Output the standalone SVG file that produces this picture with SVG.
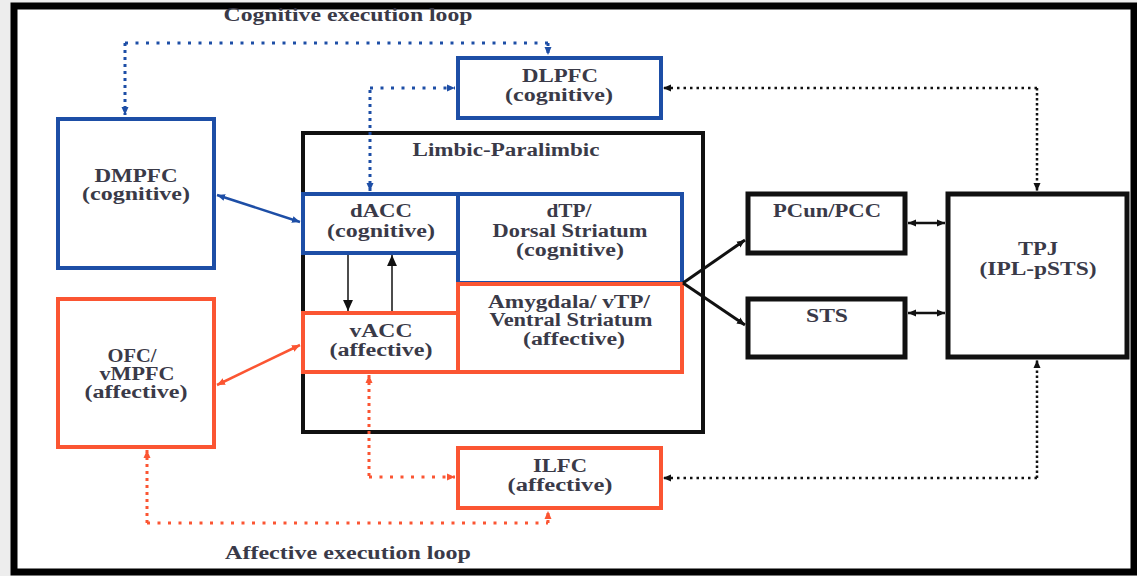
<svg xmlns="http://www.w3.org/2000/svg" width="1137" height="576" viewBox="0 0 1137 576">
  <defs>
    <style>
      .lbl { font-family: "Liberation Serif", "DejaVu Serif", serif; font-weight: bold; font-size: 18px; fill: #3a3a48; text-anchor: middle; }
      .box { fill: none; stroke-width: 4; }
      .cog { stroke: #1d4ea6; }
      .aff { stroke: #fb5532; }
      .blk { stroke: #111; }
      .thick { stroke-width: 5; }
      .con { fill: none; }
      .dotH { stroke-width: 3; stroke-dasharray: 3 7.5; }
      .dotV { stroke-width: 3; stroke-dasharray: 3 4; }
      .kdotH { stroke-width: 2.5; stroke-dasharray: 2.5 4; }
      .kdotV { stroke-width: 2.5; stroke-dasharray: 2.5 2.5; }
    </style>
    <marker id="hBlue" viewBox="0 0 8 8" refX="8" refY="4" markerWidth="8" markerHeight="8" markerUnits="userSpaceOnUse" orient="auto-start-reverse">
      <path d="M0,0.5 L8,4 L0,7.5 z" fill="#1d4ea6"/>
    </marker>
    <marker id="hOrange" viewBox="0 0 8 8" refX="8" refY="4" markerWidth="8" markerHeight="8" markerUnits="userSpaceOnUse" orient="auto-start-reverse">
      <path d="M0,0.5 L8,4 L0,7.5 z" fill="#fb5532"/>
    </marker>
    <marker id="hBlack" viewBox="0 0 8 8" refX="8" refY="4" markerWidth="8" markerHeight="8" markerUnits="userSpaceOnUse" orient="auto-start-reverse">
      <path d="M0,0.5 L8,4 L0,7.5 z" fill="#111"/>
    </marker>
    <marker id="hBlackBig" viewBox="0 0 10 10" refX="10" refY="5" markerWidth="11" markerHeight="11" markerUnits="userSpaceOnUse" orient="auto-start-reverse">
      <path d="M0,0.5 L10,5 L0,9.5 z" fill="#111"/>
    </marker>
  </defs>

  <!-- page and outer frame -->
  <rect x="0" y="0" width="1137" height="576" fill="#ededed"/>
  <rect x="14" y="6" width="1120" height="566" fill="#fff" stroke="#000" stroke-width="7"/>

  <!-- loop captions -->
  <text class="lbl" x="348" y="21" textLength="249" lengthAdjust="spacingAndGlyphs">Cognitive execution loop</text>
  <text class="lbl" x="348" y="559" textLength="246" lengthAdjust="spacingAndGlyphs">Affective execution loop</text>

  <!-- limbic-paralimbic container -->
  <g id="limbic">
    <rect class="box blk" x="303" y="133" width="400" height="299"/>
    <text class="lbl" x="506" y="156" textLength="187" lengthAdjust="spacingAndGlyphs">Limbic-Paralimbic</text>
  </g>

  <g id="dlpfc">
    <rect class="box cog" x="458" y="58" width="203" height="60"/>
    <text class="lbl" x="560" y="82" textLength="76" lengthAdjust="spacingAndGlyphs">DLPFC</text>
    <text class="lbl" x="559" y="101" textLength="108" lengthAdjust="spacingAndGlyphs">(cognitive)</text>
  </g>

  <g id="dmpfc">
    <rect class="box cog" x="58" y="119" width="156" height="149"/>
    <text class="lbl" x="136" y="182" textLength="83" lengthAdjust="spacingAndGlyphs">DMPFC</text>
    <text class="lbl" x="136" y="200" textLength="108" lengthAdjust="spacingAndGlyphs">(cognitive)</text>
  </g>

  <g id="dacc">
    <rect class="box cog" x="303" y="194" width="155" height="59"/>
    <text class="lbl" x="381" y="217" textLength="62" lengthAdjust="spacingAndGlyphs">dACC</text>
    <text class="lbl" x="381" y="237" textLength="108" lengthAdjust="spacingAndGlyphs">(cognitive)</text>
  </g>

  <g id="dtp">
    <rect class="box cog" x="458" y="194" width="224" height="89"/>
    <text class="lbl" x="569" y="217" textLength="45" lengthAdjust="spacingAndGlyphs">dTP/</text>
    <text class="lbl" x="570" y="237" textLength="155" lengthAdjust="spacingAndGlyphs">Dorsal Striatum</text>
    <text class="lbl" x="570" y="256" textLength="108" lengthAdjust="spacingAndGlyphs">(cognitive)</text>
  </g>

  <g id="vacc">
    <rect class="box aff" x="303" y="313" width="155" height="59"/>
    <text class="lbl" x="381" y="337" textLength="63" lengthAdjust="spacingAndGlyphs">vACC</text>
    <text class="lbl" x="381" y="356" textLength="103" lengthAdjust="spacingAndGlyphs">(affective)</text>
  </g>

  <g id="amygdala">
    <rect class="box aff" x="458" y="284" width="224" height="88"/>
    <text class="lbl" x="569" y="308" textLength="162" lengthAdjust="spacingAndGlyphs">Amygdala/ vTP/</text>
    <text class="lbl" x="571" y="326" textLength="163" lengthAdjust="spacingAndGlyphs">Ventral Striatum</text>
    <text class="lbl" x="574" y="345" textLength="102" lengthAdjust="spacingAndGlyphs">(affective)</text>
  </g>

  <g id="ofc">
    <rect class="box aff" x="58" y="299" width="156" height="148"/>
    <text class="lbl" x="132" y="362" textLength="49" lengthAdjust="spacingAndGlyphs">OFC/</text>
    <text class="lbl" x="137" y="380" textLength="75" lengthAdjust="spacingAndGlyphs">vMPFC</text>
    <text class="lbl" x="136" y="398" textLength="103" lengthAdjust="spacingAndGlyphs">(affective)</text>
  </g>

  <g id="ilfc">
    <rect class="box aff" x="458" y="448" width="203" height="60"/>
    <text class="lbl" x="560" y="472" textLength="54" lengthAdjust="spacingAndGlyphs">ILFC</text>
    <text class="lbl" x="560" y="491" textLength="105" lengthAdjust="spacingAndGlyphs">(affective)</text>
  </g>

  <g id="pcun">
    <rect class="box blk thick" x="748" y="194" width="157" height="59"/>
    <text class="lbl" x="827" y="217" textLength="108" lengthAdjust="spacingAndGlyphs">PCun/PCC</text>
  </g>

  <g id="sts">
    <rect class="box blk thick" x="748" y="299" width="157" height="58"/>
    <text class="lbl" x="827" y="322" textLength="42" lengthAdjust="spacingAndGlyphs">STS</text>
  </g>

  <g id="tpj">
    <rect class="box blk thick" x="948" y="194" width="179" height="163"/>
    <text class="lbl" x="1038" y="255" textLength="40" lengthAdjust="spacingAndGlyphs">TPJ</text>
    <text class="lbl" x="1038" y="275" textLength="117" lengthAdjust="spacingAndGlyphs">(IPL-pSTS)</text>
  </g>

  <g id="connectors">
    <!-- cognitive execution loop: DMPFC <-> DLPFC -->
    <path class="con cog dotV" d="M125,43 V115" marker-end="url(#hBlue)"/>
    <path class="con cog dotH" d="M125,43 H548"/>
    <path class="con cog dotV" d="M548,43 V55" marker-end="url(#hBlue)"/>
    <!-- dACC <-> DLPFC -->
    <path class="con cog dotV" d="M370,191 V88" marker-start="url(#hBlue)"/>
    <path class="con cog dotH" d="M370,88 H455" stroke-dasharray="3 4.5" marker-end="url(#hBlue)"/>
    <!-- DMPFC <-> dACC -->
    <path class="con cog" stroke-width="2.5" d="M217,195 L300,222" marker-start="url(#hBlue)" marker-end="url(#hBlue)"/>

    <!-- affective execution loop: OFC <-> ILFC -->
    <path class="con aff dotV" d="M147,450 V523"  marker-start="url(#hOrange)"/>
    <path class="con aff dotH" d="M147,523 H548"/>
    <path class="con aff dotV" d="M548,523 V511" marker-end="url(#hOrange)"/>
    <!-- vACC <-> ILFC -->
    <path class="con aff dotV" d="M369,375 V477" marker-start="url(#hOrange)"/>
    <path class="con aff dotH" d="M369,477 H455" stroke-dasharray="3 4.5" marker-end="url(#hOrange)"/>
    <!-- OFC <-> vACC -->
    <path class="con aff" stroke-width="2.5" d="M217,385 L300,345" marker-start="url(#hOrange)" marker-end="url(#hOrange)"/>

    <!-- dACC / vACC exchange -->
    <path class="con blk" stroke-width="1.5" d="M348,255 V311" marker-end="url(#hBlackBig)"/>
    <path class="con blk" stroke-width="1.5" d="M392,311 V255" marker-end="url(#hBlackBig)"/>

    <!-- striatal outputs to PCun/PCC and STS -->
    <path class="con blk" stroke-width="3" d="M683,283 L745,240" marker-end="url(#hBlack)"/>
    <path class="con blk" stroke-width="3" d="M683,283 L745,325" marker-end="url(#hBlack)"/>

    <!-- PCun/PCC and STS <-> TPJ -->
    <path class="con blk" stroke-width="2.5" d="M908,223 H945" marker-start="url(#hBlack)" marker-end="url(#hBlack)"/>
    <path class="con blk" stroke-width="2.5" d="M908,313 H945" marker-start="url(#hBlack)" marker-end="url(#hBlack)"/>

    <!-- TPJ <-> DLPFC -->
    <path class="con blk kdotH" d="M1037,88 H663" marker-end="url(#hBlack)"/>
    <path class="con blk kdotV" d="M1037,88 V191" marker-end="url(#hBlack)"/>
    <!-- TPJ <-> ILFC -->
    <path class="con blk kdotH" d="M1037,478 H663" marker-end="url(#hBlack)"/>
    <path class="con blk kdotV" d="M1037,478 V360" marker-end="url(#hBlack)"/>
  </g>
</svg>
